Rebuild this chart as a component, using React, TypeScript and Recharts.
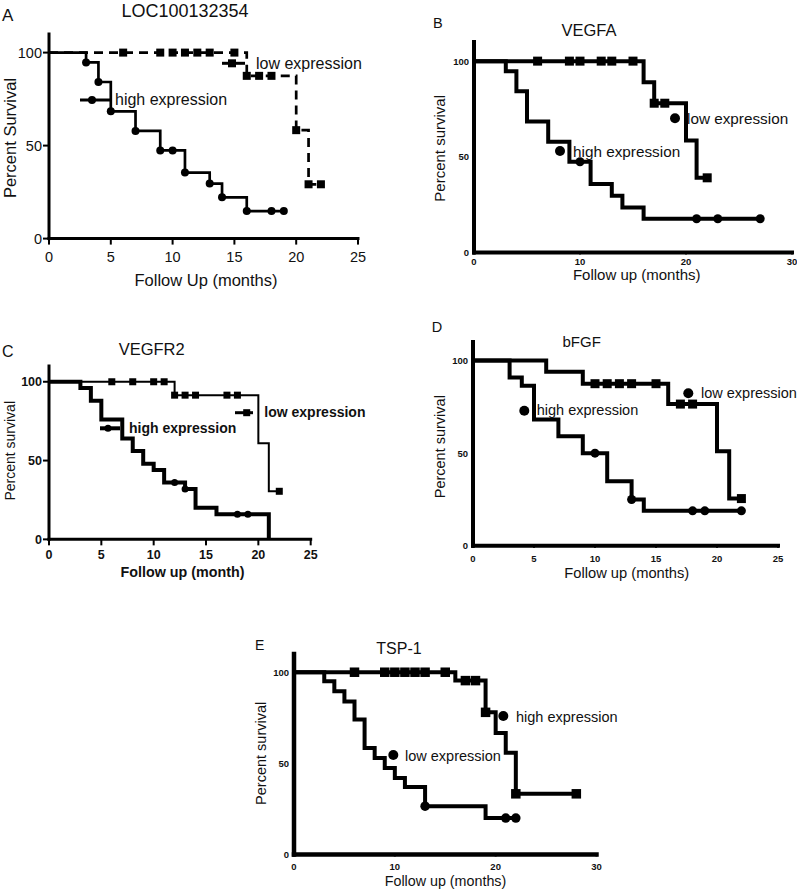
import { LineChart, Line, XAxis, YAxis } from 'recharts';

// Kaplan-Meier panels A-E, survival (%) by follow-up month.
// Each curve: event/censor times, survival at that time, and times that carry a symbol.

const FONT = '"Liberation Sans", Arial, Helvetica, sans-serif';
const INK = '#111';

const X_TICKS_25 = [0, 5, 10, 15, 20, 25];
const X_TICKS_30 = [0, 10, 20, 30];
const Y_TICKS = [0, 50, 100];

// A - LOC100132354
const A_HIGH_T = [0, 3, 4, 5, 7, 9, 10, 11, 13, 14, 16, 18, 19];
const A_HIGH_S = [100, 94.7, 84.2, 68.4, 57.9, 47.4, 47.4, 35.5, 29.6, 22.2, 14.8, 14.8, 14.8];
const A_HIGH_MARKS = [3, 4, 5, 7, 9, 10, 11, 13, 14, 16, 18, 19];
const A_LOW_T = [0, 6, 9, 10, 11, 12, 13, 15, 16, 17, 18, 20, 21, 22];
const A_LOW_S = [100, 100, 100, 100, 100, 100, 100, 100, 87.5, 87.5, 87.5, 58.3, 29.2, 29.2];
const A_LOW_MARKS = [6, 9, 10, 11, 12, 13, 15, 16, 17, 18, 20, 21, 22];

// B - VEGFA
const B_HIGH_T = [0, 3, 4, 5, 7, 9, 10, 11, 13, 14, 16, 21, 23, 27];
const B_HIGH_S = [100, 94.7, 84.2, 68.4, 57.9, 47.4, 47.4, 35.8, 29.6, 23.5, 17.6, 17.6, 17.6, 17.6];
const B_HIGH_MARKS = [10, 21, 23, 27];
const B_LOW_T = [0, 6, 9, 10, 12, 13, 15, 16, 17, 18, 20, 21, 22];
const B_LOW_S = [100, 100, 100, 100, 100, 100, 100, 89, 78, 78, 58.5, 39, 39];
const B_LOW_MARKS = [6, 9, 10, 12, 13, 15, 17, 18, 22];

// C - VEGFR2
const C_HIGH_T = [0, 3, 4, 5, 7, 8, 9, 10, 11, 12, 13, 14, 16, 18, 19, 21];
const C_HIGH_S = [100, 96, 88, 76, 64, 56, 48, 44, 36, 36, 32, 20, 16, 16, 16, 0];
const C_HIGH_MARKS = [12, 13, 18, 19];
const C_LOW_T = [0, 6, 8, 10, 11, 12, 13, 14, 17, 18, 20, 21, 22];
const C_LOW_S = [100, 100, 100, 100, 100, 91.5, 91.5, 91.5, 91.5, 91.5, 61, 30.5, 30.5];
const C_LOW_MARKS = [6, 8, 10, 11, 12, 13, 14, 17, 18, 22];

// D - bFGF
const D_HIGH_T = [0, 3, 4, 5, 7, 9, 10, 11, 13, 14, 18, 19, 22];
const D_HIGH_S = [100, 90.9, 86.4, 68.2, 59.1, 50, 50, 34.8, 25, 18.9, 18.9, 18.9, 18.9];
const D_HIGH_MARKS = [10, 13, 18, 19, 22];
const D_LOW_T = [0, 6, 9, 10, 11, 12, 13, 15, 16, 17, 18, 20, 21, 22];
const D_LOW_S = [100, 94, 87.5, 87.5, 87.5, 87.5, 87.5, 87.5, 76.5, 76.5, 76.5, 51, 25.5, 25.5];
const D_LOW_MARKS = [10, 11, 12, 13, 15, 17, 18, 22];

// E - TSP-1
const E_LOW_T = [0, 3, 4, 5, 6, 7, 8, 9, 10, 11, 13, 19, 21, 22];
const E_LOW_S = [100, 95, 89.5, 84, 74, 58.5, 53, 47.5, 42, 37, 26.5, 20, 20, 20];
const E_LOW_MARKS = [13, 21, 22];
const E_HIGH_T = [0, 6, 9, 10, 11, 12, 13, 15, 16, 17, 18, 19, 20, 21, 22, 28];
const E_HIGH_S = [100, 100, 100, 100, 100, 100, 100, 100, 95.4, 95.4, 95.4, 78, 66.7, 55.8, 33.3, 33.3];
const E_HIGH_MARKS = [6, 9, 10, 11, 12, 13, 15, 17, 18, 19, 22, 28];

type Pt = { t: number; s: number; m: boolean };

const toPts = (t: number[], s: number[], marks: number[]): Pt[] =>
  t.map((x, i) => ({ t: x, s: s[i], m: marks.includes(x) }));

type Curve = { pts: Pt[]; shape: 'sq' | 'ci'; width: number; size: number; dash?: string };

const markDot = (shape: 'sq' | 'ci', size: number) => (p: any) => {
  const { cx, cy, payload, index } = p;
  if (!payload || !payload.m || cx == null || cy == null) return <g key={`n-${index}`} />;
  if (shape === 'sq') {
    return <rect key={`m-${index}`} x={cx - size / 2} y={cy - size / 2} width={size} height={size} fill="#000" />;
  }
  return <circle key={`m-${index}`} cx={cx} cy={cy} r={size / 2} fill="#000" />;
};

interface PanelProps {
  x0: number; // page px of month 0
  x1: number; // page px of xMax
  xMax: number;
  xTicks: number[];
  y0: number; // page px of 0 %
  y100: number; // page px of 100 %
  curves: Curve[];
  tickFont: number;
  tickBold: boolean;
  tickSize: number;
  xMargin: number;
  yMargin: number;
  axisW: number;
}

function KMPanel(props: PanelProps) {
  const { x0, x1, xMax, xTicks, y0, y100, curves, tickFont, tickBold, tickSize, xMargin, yMargin, axisW } = props;
  const yTop = y0 - (y0 - y100) * 1.1;
  const left = x0 - 60;
  const top = yTop - 10;
  const w = x1 - x0 + 80;
  const h = y0 - yTop + 50;
  const tick = { fontSize: tickFont, fontWeight: tickBold ? 700 : 400, fill: INK, fontFamily: FONT };
  const axisLine = { stroke: '#000', strokeWidth: axisW, strokeLinecap: 'square' as const };
  const tickLine = { stroke: '#000', strokeWidth: 2 };

  return (
    <div style={{ position: 'absolute', left, top, width: w, height: h }}>
      <LineChart width={w} height={h} margin={{ top: 10, right: 20, left: 10, bottom: 0 }}>
        <XAxis
          type="number"
          dataKey="t"
          domain={[0, xMax]}
          ticks={xTicks}
          interval={0}
          height={40}
          axisLine={axisLine}
          tickLine={tickLine}
          tickSize={tickSize}
          tickMargin={xMargin}
          tick={tick}
        />
        <YAxis
          type="number"
          domain={[0, 110]}
          ticks={Y_TICKS}
          interval={0}
          width={50}
          axisLine={axisLine}
          tickLine={tickLine}
          tickSize={tickSize}
          tickMargin={yMargin}
          tick={tick}
        />
        {curves.map((c, i) => (
          <Line
            key={i}
            data={c.pts}
            dataKey="s"
            type="stepAfter"
            stroke="#000"
            strokeWidth={c.width}
            strokeDasharray={c.dash}
            dot={markDot(c.shape, c.size)}
            activeDot={false}
            isAnimationActive={false}
          />
        ))}
      </LineChart>
    </div>
  );
}

function Txt({ x, y, s, children, anchor = 'start', bold = false, rot = false }: any) {
  const common = { fontFamily: FONT, fontSize: s, fontWeight: bold ? 700 : 400, fill: INK };
  if (rot) {
    return (
      <text transform={`translate(${x},${y}) rotate(-90)`} textAnchor="middle" {...common}>
        {children}
      </text>
    );
  }
  return (
    <text x={x} y={y} textAnchor={anchor} {...common}>
      {children}
    </text>
  );
}

export default function App() {
  return (
    <div style={{ position: 'absolute', left: 0, top: 0, width: 797, height: 890, background: '#fff' }}>
      <KMPanel
        x0={49} x1={358} xMax={25} xTicks={X_TICKS_25} y0={239} y100={53}
        tickFont={14.5} tickBold={false} tickSize={6} xMargin={7} yMargin={1} axisW={3}
        curves={[
          { pts: toPts(A_LOW_T, A_LOW_S, A_LOW_MARKS), shape: 'sq', width: 2.7, size: 8, dash: '9 6' },
          { pts: toPts(A_HIGH_T, A_HIGH_S, A_HIGH_MARKS), shape: 'ci', width: 2.7, size: 8 },
        ]}
      />
      <KMPanel
        x0={474} x1={792} xMax={30} xTicks={X_TICKS_30} y0={252} y100={60.7}
        tickFont={9.5} tickBold tickSize={2} xMargin={4} yMargin={3} axisW={4}
        curves={[
          { pts: toPts(B_LOW_T, B_LOW_S, B_LOW_MARKS), shape: 'sq', width: 4, size: 9 },
          { pts: toPts(B_HIGH_T, B_HIGH_S, B_HIGH_MARKS), shape: 'ci', width: 4, size: 9 },
        ]}
      />
      <KMPanel
        x0={49} x1={310.7} xMax={25} xTicks={X_TICKS_25} y0={539.3} y100={381.7}
        tickFont={12.5} tickBold tickSize={6} xMargin={5} yMargin={1} axisW={3}
        curves={[
          { pts: toPts(C_LOW_T, C_LOW_S, C_LOW_MARKS), shape: 'sq', width: 2, size: 7 },
          { pts: toPts(C_HIGH_T, C_HIGH_S, C_HIGH_MARKS), shape: 'ci', width: 4, size: 7 },
        ]}
      />
      <KMPanel
        x0={473} x1={778} xMax={25} xTicks={X_TICKS_25} y0={546} y100={360.7}
        tickFont={9.5} tickBold tickSize={2} xMargin={7} yMargin={3} axisW={4}
        curves={[
          { pts: toPts(D_LOW_T, D_LOW_S, D_LOW_MARKS), shape: 'sq', width: 4, size: 9 },
          { pts: toPts(D_HIGH_T, D_HIGH_S, D_HIGH_MARKS), shape: 'ci', width: 4, size: 9 },
        ]}
      />
      <KMPanel
        x0={293.5} x1={596} xMax={30} xTicks={X_TICKS_30} y0={855} y100={672.7}
        tickFont={9.5} tickBold tickSize={2} xMargin={7} yMargin={3} axisW={4.5}
        curves={[
          { pts: toPts(E_HIGH_T, E_HIGH_S, E_HIGH_MARKS), shape: 'sq', width: 4, size: 9.5 },
          { pts: toPts(E_LOW_T, E_LOW_S, E_LOW_MARKS), shape: 'ci', width: 4, size: 9.5 },
        ]}
      />

      <svg width={797} height={890} style={{ position: 'absolute', left: 0, top: 0, pointerEvents: 'none' }}>
        {/* A */}
        <Txt x={2} y={20.7} s={17}>A</Txt>
        <Txt x={185} y={16.5} s={18} anchor="middle">LOC100132354</Txt>
        <Txt x={16} y={138} s={16.5} rot>Percent Survival</Txt>
        <Txt x={206} y={285.8} s={16.5} anchor="middle">Follow Up (months)</Txt>
        <line x1={222} y1={63.3} x2={245} y2={63.3} stroke="#000" strokeWidth={3} />
        <rect x={228} y={59.3} width={8} height={8} fill="#000" />
        <Txt x={256} y={69} s={16}>low expression</Txt>
        <line x1={80} y1={100} x2={110} y2={100} stroke="#000" strokeWidth={3} />
        <circle cx={92} cy={100} r={4} fill="#000" />
        <Txt x={115} y={105} s={16}>high expression</Txt>

        {/* B */}
        <Txt x={433} y={28.3} s={14.5}>B</Txt>
        <Txt x={589} y={36} s={16.5} anchor="middle">VEGFA</Txt>
        <Txt x={445} y={148.3} s={15} rot>Percent survival</Txt>
        <Txt x={636.7} y={280} s={15} anchor="middle">Follow up (months)</Txt>
        <circle cx={675} cy={118.3} r={5} fill="#000" />
        <Txt x={687} y={124.3} s={15.3}>low expression</Txt>
        <circle cx={560} cy={151} r={5} fill="#000" />
        <Txt x={573} y={156.7} s={15.3}>high expression</Txt>

        {/* C */}
        <Txt x={2} y={357} s={16}>C</Txt>
        <Txt x={151.7} y={354.5} s={16.5} anchor="middle">VEGFR2</Txt>
        <Txt x={15} y={450.8} s={14} rot>Percent survival</Txt>
        <Txt x={182.5} y={577} s={14.3} anchor="middle" bold>Follow up (month)</Txt>
        <line x1={235} y1={412.7} x2={253} y2={412.7} stroke="#000" strokeWidth={3} />
        <rect x={243.2} y={409.2} width={7} height={7} fill="#000" />
        <Txt x={264.3} y={416.6} s={14} bold>low expression</Txt>
        <line x1={100} y1={428.3} x2={120} y2={428.3} stroke="#000" strokeWidth={4} />
        <circle cx={108} cy={428.3} r={3.5} fill="#000" />
        <Txt x={129} y={433} s={14} bold>high expression</Txt>

        {/* D */}
        <Txt x={431.7} y={331.7} s={14.5}>D</Txt>
        <Txt x={581.7} y={346.7} s={15} anchor="middle">bFGF</Txt>
        <Txt x={445} y={446.7} s={14.5} rot>Percent survival</Txt>
        <Txt x={626.8} y={578} s={14.7} anchor="middle">Follow up (months)</Txt>
        <circle cx={688.3} cy={393.3} r={5} fill="#000" />
        <Txt x={701} y={397.8} s={14.5}>low expression</Txt>
        <circle cx={524.3} cy={410.7} r={5} fill="#000" />
        <Txt x={536.7} y={415} s={14.5}>high expression</Txt>

        {/* E */}
        <Txt x={255} y={650} s={14}>E</Txt>
        <Txt x={399} y={654} s={16} anchor="middle">TSP-1</Txt>
        <Txt x={266} y={753.3} s={14.5} rot>Percent survival</Txt>
        <Txt x={445.5} y={885.5} s={14.3} anchor="middle">Follow up (months)</Txt>
        <circle cx={503.3} cy={716} r={5} fill="#000" />
        <Txt x={516} y={721.5} s={14.5}>high expression</Txt>
        <circle cx={393.3} cy={755} r={5} fill="#000" />
        <Txt x={405} y={760.5} s={14.5}>low expression</Txt>
      </svg>
    </div>
  );
}
